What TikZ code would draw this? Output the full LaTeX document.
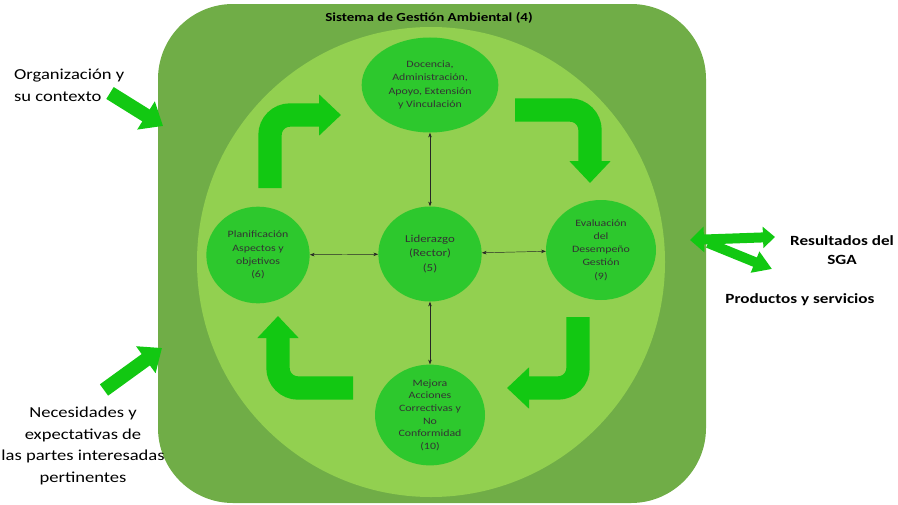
\documentclass[tikz,border=0pt]{standalone}
\usepackage{fontspec}
\setmainfont{Carlito}[FakeStretch=1.22]
\usetikzlibrary{arrows.meta,positioning,shapes.geometric}
\definecolor{sgadark}{HTML}{70AD47}
\definecolor{sgalight}{HTML}{92D050}
\definecolor{sgacirc}{HTML}{2DC82D}
\definecolor{sgaarrow}{HTML}{12C812}
\begin{document}
\begin{tikzpicture}[x=0.03cm, y=-0.03cm]
\tikzstyle{circ}=[ellipse, fill=sgacirc, inner sep=0pt, align=center,
                  text=black!80, font=\fontsize{8.3}{11.3}\selectfont]
\tikzstyle{turnarr}=[draw=sgaarrow, line width=0.7cm, rounded corners=0.6cm,
                  -{Triangle[length=0.66cm, width=1.2cm]}]
\tikzstyle{inarr}=[draw=sgaarrow, line width=0.42cm, -{Triangle[length=0.6cm, width=0.96cm]}]
\tikzstyle{outarr}=[draw=sgaarrow, line width=0.3cm]
\tikzstyle{lbl}=[align=center, font=\fontsize{13}{18.5}\selectfont]
\tikzstyle{blbl}=[align=center, font=\fontsize{12}{16}\selectfont\bfseries]
\useasboundingbox (0,0) rectangle (898,504);
% frame and inner ellipse
\fill[sgadark, rounded corners=2.25cm] (158,4) rectangle (706,503);
\fill[sgalight] (431,262) ellipse [x radius=234, y radius=235];
\node[font=\fontsize{10.5}{12}\selectfont\bfseries] (tit) at (429,18) {Sistema de Gestión Ambiental (4)};
% circles
\node[circ, minimum width=4.1cm, minimum height=2.85cm] (doc) at (430,85)
  {Docencia,\\Administración,\\Apoyo, Extensión\\y Vinculación};
\node[circ, minimum width=3.1cm, minimum height=2.9cm] (plan) at (258,255)
  {Planificación\\Aspectos y\\objetivos\\(6)};
\node[circ, minimum width=3.1cm, minimum height=2.85cm, font=\fontsize{9}{12.5}\selectfont] (lid) at (430,254)
  {Liderazgo\\(Rector)\\(5)};
\node[circ, minimum width=3.3cm, minimum height=3cm] (eva) at (601,250)
  {Evaluación\\del\\Desempeño\\Gestión\\(9)};
\node[circ, minimum width=3.3cm, minimum height=3cm, font=\fontsize{8.3}{10.8}\selectfont] (mej) at (430,415)
  {Mejora\\Acciones\\Correctivas y\\No\\Conformidad\\(10)};
\foreach \i in {doc,plan,eva,mej}{\draw[{Stealth[length=4pt]}-{Stealth[length=4pt]}, black!85] (lid) -- (\i);}
% cycle arrows
\coordinate (a1) at (270,188); \coordinate (b1) at (341,115);
\coordinate (a2) at (515,110); \coordinate (b2) at (590,183);
\coordinate (a3) at (578,317); \coordinate (b3) at (507,388);
\coordinate (a4) at (353,388); \coordinate (b4) at (278,316);
\draw[turnarr] (a1) |- (b1);
\draw[turnarr] (a2) -| (b2);
\draw[turnarr] (a3) |- (b3);
\draw[turnarr] (a4) -| (b4);
% outside
\node[lbl, align=left, anchor=west] (org) at (10,85) {Organización y\\su contexto};
\coordinate (o1) at (110,93); \coordinate (o2) at (163,126);
\draw[inarr] (o1) -- (o2);
\node[lbl] (nec) at (83,446) {Necesidades y\\expectativas de\\las partes interesadas\\pertinentes};
\coordinate (n1) at (104,390); \coordinate (n2) at (162,348);
\draw[inarr] (n1) -- (n2);
\coordinate (r0) at (690,240); \coordinate (r1) at (775,237);
\coordinate (r2) at (708,243); \coordinate (r3) at (772,269);
\draw[outarr, {Triangle[length=0.42cm, width=0.75cm]}-{Triangle[length=0.36cm, width=0.62cm]}] (r0) -- (r1);
\draw[outarr, -{Triangle[length=0.55cm, width=0.65cm]}] (r2) -- (r3);
\node[blbl] (res) at (842,250) {Resultados del\\SGA};
\node[blbl] (prod) at (800,300) {Productos y servicios};
\end{tikzpicture}
\end{document}
